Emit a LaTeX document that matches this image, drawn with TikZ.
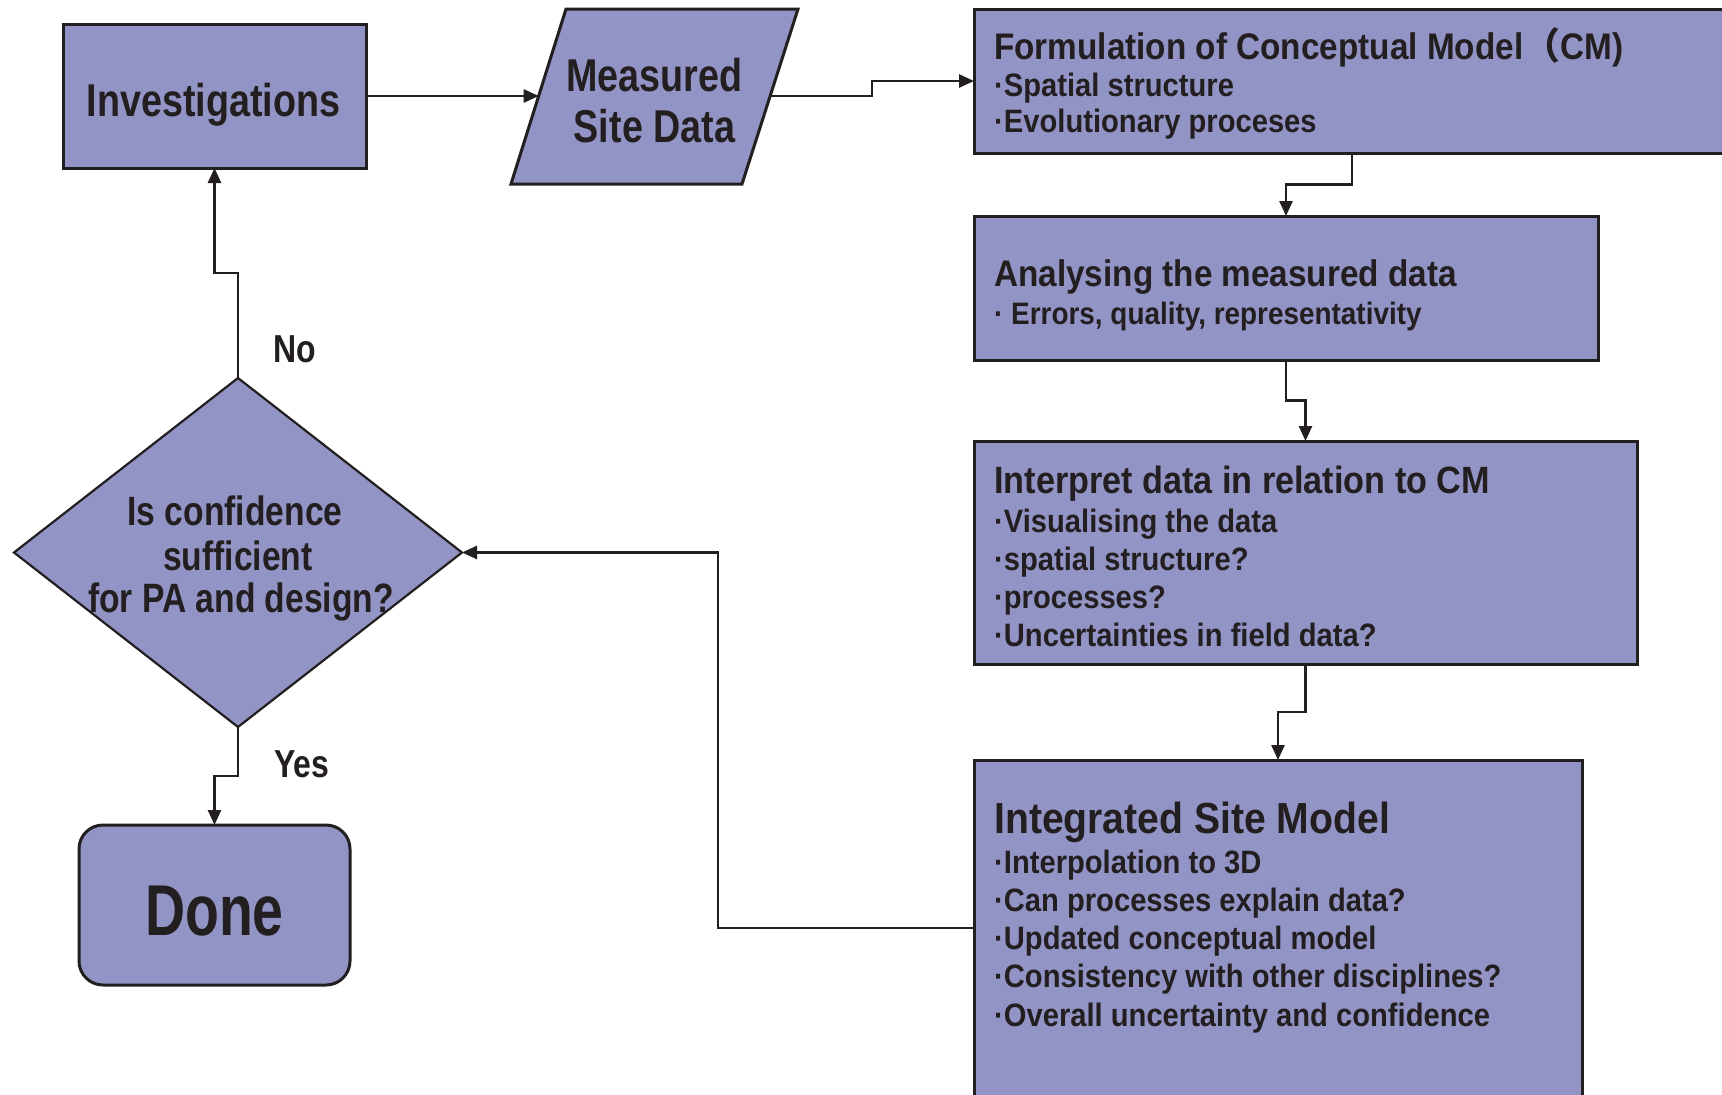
\documentclass[tikz,border=0pt]{standalone}
\usepackage{fontspec}
\setmainfont{Liberation Sans}
\newfontfamily\fB[FakeStretch=0.9]{Liberation Sans}
\newfontfamily\fC[FakeStretch=0.82]{Liberation Sans}
\newfontfamily\fD[FakeStretch=0.77]{Liberation Sans}
\newfontfamily\cjk{Noto Sans CJK JP}
\usetikzlibrary{arrows.meta,shapes.geometric,calc}
\definecolor{boxfill}{RGB}{147,148,198}
\definecolor{ink}{RGB}{35,31,32}
\newcommand\fs[1]{\fontsize{#1}{#1}\selectfont}
\begin{document}
\begin{tikzpicture}[x=1pt,y=-1pt,
  box/.style={draw=ink,fill=boxfill,line width=3pt,inner sep=0pt,outer sep=0pt,rectangle},
  conn/.style={draw=ink,line width=2.5pt,-{Triangle[length=15pt,width=13pt]}},
  ln/.style={anchor=base west,inner sep=0pt,text=ink},
  cl/.style={anchor=base,inner sep=0pt,text=ink},
  ttl/.style={font=\fB\bfseries\fs{37}},
  blt/.style={font=\fB\bfseries\fs{32.4}},
  cond/.style={font=\fC\bfseries\fs{46}},
  lbl/.style={font=\fC\bfseries\fs{39}}]
\useasboundingbox (0,0) rectangle (1722,1095);
\clip (0,0) rectangle (1722,1095);
\fill[white] (0,0) rectangle (1722,1095);

% shapes
\node[box,minimum width=303pt,minimum height=144pt] (inv) at (214.5,96) {};
\draw[box] (566,9) -- (798,9) -- (742,184) -- (511,184) -- cycle;
\coordinate (mL) at (538.7,96);
\coordinate (mR) at (770.2,96);
\node[box,minimum width=756pt,minimum height=144pt] (form) at (1352,81) {};
\node[box,minimum width=624pt,minimum height=144pt] (ana) at (1286,288) {};
\node[box,minimum width=663pt,minimum height=223pt] (intp) at (1305.5,552.5) {};
\node[box,minimum width=608pt,minimum height=340pt] (ism) at (1278,930) {};
\node[box,diamond,line width=2.2pt,minimum width=448pt,minimum height=349pt] (dia) at (238,552.5) {};
\node[box,rounded corners=24pt,minimum width=271pt,minimum height=160pt] (done) at (214.5,905) {};

% texts
\node[cl,cond] (invT) at (213.5,116) {Investigations};
\node[cl,cond] (measT1) at (654.5,91) {Measured};
\node[cl,cond] (measT2) at (654.5,142) {Site Data};

\node[ln,ttl] (formT) at (994,59) {Formulation of Conceptual Model{\cjk （}CM)};
\node[ln,blt] (formB1) at (994,96) {·Spatial structure};
\node[ln,blt] (formB2) at (994,132) {·Evolutionary proceses};

\node[ln,ttl] (anaT) at (994,286) {Analysing the measured data};
\node[ln,font=\fB\bfseries\fs{31}] (anaB1) at (994,324) {· Errors, quality, representativity};

\node[ln,font=\fB\bfseries\fs{38}] (intpT) at (994,493) {Interpret data in relation to CM};
\node[ln,blt] (intpB1) at (994,532) {·Visualising the data};
\node[ln,blt] (intpB2) at (994,570) {·spatial structure?};
\node[ln,blt] (intpB3) at (994,608) {·processes?};
\node[ln,blt] (intpB4) at (994,646) {·Uncertainties in field data?};

\node[ln,font=\fB\bfseries\fs{43.5}] (ismT) at (994,833) {Integrated Site Model};
\node[ln,blt] (ismB1) at (994,873) {·Interpolation to 3D};
\node[ln,blt] (ismB2) at (994,911) {·Can processes explain data?};
\node[ln,blt] (ismB3) at (994,949) {·Updated conceptual model};
\node[ln,blt] (ismB4) at (994,987) {·Consistency with other disciplines?};
\node[ln,blt] (ismB5) at (994,1026) {·Overall uncertainty and confidence};

\node[cl,font=\fC\bfseries\fs{41}] (diaT1) at (235,525) {Is confidence};
\node[cl,font=\fC\bfseries\fs{41}] (diaT2) at (238,570) {sufficient};
\node[cl,font=\fC\bfseries\fs{41}] (diaT3) at (241,612) {for PA and design?};

\node[cl,font=\fD\bfseries\fs{72}] (doneT) at (214.5,935) {Done};

\node[ln,lbl] (noL) at (273,362) {No};
\node[ln,lbl] (yesL) at (274,777) {Yes};

% connectors
\draw[conn] (inv.east) -- (mL);
\draw[conn] (mR) -| ($(mR)!0.5!(form.west)$) |- (form.west);
\draw[conn] (form.south) |- ($(form.south)!0.5!(ana.north)$) -| (ana.north);
\draw[conn] (ana.south) |- ($(ana.south)!0.5!(intp.north)$) -| (intp.north);
\draw[conn] (intp.south) |- ($(intp.south)!0.5!(ism.north)$) -| (ism.north);
\draw[conn] ([yshift=2pt]ism.west) -- ++(-256,0) |- (dia.east);
\draw[conn] (dia.north) |- ($(dia.north)!0.5!(inv.south)$) -| (inv.south);
\draw[conn] (dia.south) |- ($(dia.south)!0.5!(done.north)$) -| (done.north);
\end{tikzpicture}
\end{document}
